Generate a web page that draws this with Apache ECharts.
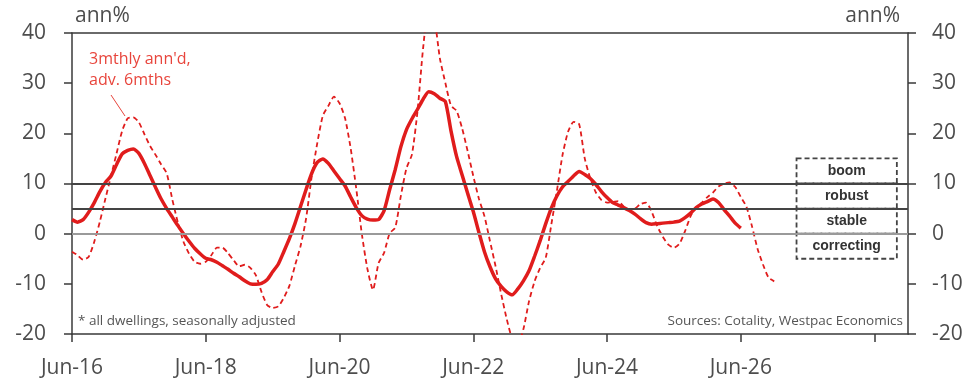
<!DOCTYPE html>
<html>
<head>
<meta charset="utf-8">
<script src="https://cdn.jsdelivr.net/npm/echarts@6/dist/echarts.min.js"></script>
<style>html,body{margin:0;padding:0;background:#fff}#c{width:972px;height:382px}</style>
</head>
<body>
<div id="c"></div>
<script>
// ---- data ----
const startMonth = {year: 2016, month: 5}; // Jun-16
const monthCount = 151;                    // Jun-16 .. Dec-28
const tickLabels = ['Jun-16','Jun-18','Jun-20','Jun-22','Jun-24','Jun-26'];
const tickOnly = ['Jun-28'];

// 6-month annualised (solid), monthly from Jun-16
const solidVals = [
 2.8, 2.3, 2.8, 4.3, 6.2, 8.4, 10.2, 11.5, 13.8, 15.9, 16.6, 16.9,
 16.0, 14.0, 11.6, 9.2, 6.9, 5.0, 3.3, 1.6, 0.0, -1.5, -2.9, -4.0,
 -4.9, -5.2, -5.7, -6.4, -7.1, -7.9, -8.6, -9.4, -10.0, -10.1, -9.9, -9.2,
 -7.6, -6.1, -3.6, -1.0, 2.0, 5.4, 8.8, 12.0, 14.2, 14.9, 14.0, 12.5,
 11.0, 9.5, 7.3, 5.2, 3.6, 2.9, 2.7, 2.8, 4.6, 8.8, 12.8, 17.3,
 20.7, 22.9, 24.8, 26.8, 28.3, 27.9, 27.0, 26.3, 20.5, 15.4, 11.7, 8.0,
 4.4, 0.3, -3.6, -6.6, -9.0, -10.5, -11.6, -12.2, -11.0, -9.4, -7.4, -4.5,
 -1.4, 2.0, 5.1, 7.5, 9.3, 10.4, 11.5, 12.4, 11.8, 11.0, 9.8, 8.4,
 7.2, 6.2, 5.7, 5.2, 4.6, 3.9, 3.0, 2.2, 1.9, 2.0, 2.1, 2.2,
 2.3, 2.5, 3.2, 4.1, 5.2, 5.9, 6.4, 6.9, 6.2, 4.8, 3.5, 2.1,
 1.1
];

// 3mthly annualised, advanced 6 months (dashed), monthly from Jun-16
const dashedVals = [
 -3.6, -4.3, -5.2, -4.6, -1.6, 2.4, 7.0, 11.5, 16.0, 20.5, 23.0, 23.2,
 22.2, 19.8, 17.5, 15.7, 13.8, 12.0, 6.8, 2.2, -1.6, -4.0, -5.6, -6.0,
 -5.6, -4.3, -2.8, -2.8, -3.9, -5.3, -6.5, -6.2, -6.8, -8.3, -11.6, -14.2,
 -14.8, -14.5, -12.8, -10.4, -6.4, -2.5, 3.0, 11.3, 18.0, 23.5, 25.5, 27.3,
 26.0, 23.0, 17.0, 9.0, 0.0, -7.0, -11.2, -5.9, -3.8, 0.1, 1.2, 7.5,
 13.0, 15.8, 24.5, 37.0, 45.0, 43.0, 35.0, 30.0, 25.5, 24.5, 21.0, 16.4,
 11.5, 7.0, 3.5, -1.5, -6.5, -12.0, -17.0, -21.0, -22.0, -19.0, -13.5, -9.5,
 -6.8, -4.8, 1.8, 8.5, 15.6, 20.3, 22.3, 21.8, 15.0, 11.0, 8.2, 6.7,
 6.2, 6.3, 6.5, 5.4, 4.7, 5.0, 5.9, 6.2, 4.4, 1.5, -0.6, -2.2,
 -2.8, -2.0, 0.5, 3.5, 5.3, 6.2, 7.3, 8.2, 9.4, 10.0, 10.2, 9.3,
 7.3, 5.4, 1.5, -3.0, -6.2, -8.8, -9.5
];

const refLevels = [10, 5, 0];
const zones = [
  {name: 'boom', from: 10, to: 15},
  {name: 'robust', from: 5, to: 10},
  {name: 'stable', from: 0, to: 5},
  {name: 'correcting', from: -5, to: 0}
];
const zoneStart = 'Apr-27', zoneEnd = 'Oct-28';

// ---- categories ----
const mNames = ['Jan','Feb','Mar','Apr','May','Jun','Jul','Aug','Sep','Oct','Nov','Dec'];
const categories = [];
for (let i = 0; i < monthCount; i++) {
  const t = startMonth.month + i;
  const y = startMonth.year + Math.floor(t / 12);
  categories.push(mNames[t % 12] + '-' + String(y % 100).padStart(2, '0'));
}

const FONT = 'Open Sans';
const red = '#e01c1c';
const axisCol = '#3a3a3a';
const textCol = '#4d4d4d';

const chart = echarts.init(document.getElementById('c'), null, {renderer: 'canvas'});

const yAxisBase = {
  type: 'value', min: -20, max: 40, interval: 10,
  axisLine: {show: true, onZero: false, lineStyle: {color: axisCol, width: 1.5}},
  axisTick: {show: true, length: 8, lineStyle: {color: axisCol, width: 1.5}},
  splitLine: {show: false},
  axisLabel: {color: textCol, fontSize: 21, fontFamily: FONT, margin: 26}
};

chart.setOption({
  animation: false,
  backgroundColor: '#fff',
  grid: {left: 72, right: 64, top: 33, bottom: 48},
  xAxis: [{
    type: 'category', data: categories, boundaryGap: false,
    axisLine: {onZero: false, lineStyle: {color: axisCol, width: 1.5}},
    axisTick: {length: 8, lineStyle: {color: axisCol, width: 1.5},
      interval: (i, v) => tickLabels.includes(v) || tickOnly.includes(v)},
    axisLabel: {color: textCol, fontSize: 21, fontFamily: FONT, margin: 24,
      interval: (i, v) => tickLabels.includes(v)},
    splitLine: {show: false}
  }, {
    type: 'category', data: categories, boundaryGap: false, position: 'top',
    axisLine: {show: true, onZero: false, lineStyle: {color: axisCol, width: 1.5}},
    axisTick: {show: false}, axisLabel: {show: false}, splitLine: {show: false}
  }],
  yAxis: [
    Object.assign({}, yAxisBase, {position: 'left'}),
    Object.assign({}, yAxisBase, {position: 'right', axisLabel: Object.assign({}, yAxisBase.axisLabel, {margin: 24})})
  ],
  series: [
    {
      type: 'line', data: [], z: 1, silent: true,
      markLine: {
        silent: true, symbol: 'none', animation: false,
        label: {show: false},
        data: refLevels.map(v => ({yAxis: v, lineStyle: {color: v === 0 ? '#9a9a9a' : '#444', width: 1.8, type: 'solid'}}))
      },
      markArea: {
        silent: true,
        itemStyle: {color: 'rgba(255,255,255,0)', borderColor: '#444', borderWidth: 1.8, borderType: [5, 3]},
        label: {show: true, position: 'inside', color: '#333', fontWeight: 'bold', fontSize: 14, fontFamily: 'Liberation Sans'},
        data: zones.map(z => [{name: z.name, xAxis: zoneStart, yAxis: z.to}, {xAxis: zoneEnd, yAxis: z.from}])
      }
    },
    {
      name: '3mthly', type: 'line', data: dashedVals, z: 3, symbol: 'none', smooth: 0.2,
      lineStyle: {color: red, width: 1.8, type: [5, 3.5]}
    },
    {
      name: '6mthly', type: 'line', data: solidVals, z: 4, symbol: 'none', smooth: 0.2,
      lineStyle: {color: red, width: 3.5}
    }
  ],
  graphic: [
    {type: 'text', left: 75, top: 6, style: {text: 'ann%', fill: textCol, fontSize: 21, fontFamily: FONT}},
    {type: 'text', right: 72, top: 6, style: {text: 'ann%', fill: textCol, fontSize: 21, fontFamily: FONT}},
    {type: 'text', left: 89, top: 49, style: {text: "3mthly ann'd,\nadv. 6mths", fill: '#e8453c', fontSize: 16, lineHeight: 21, fontFamily: FONT}},
    {type: 'line', shape: {x1: 111, y1: 95, x2: 125, y2: 116}, style: {stroke: '#e8453c', lineWidth: 1}},
    {type: 'text', left: 78, top: 314, style: {text: '* all dwellings, seasonally adjusted', fill: '#555', fontSize: 13.5, fontFamily: FONT}},
    {type: 'text', right: 69, top: 314, style: {text: 'Sources: Cotality, Westpac Economics', fill: '#555', fontSize: 13.5, fontFamily: FONT}}
  ]
});
</script>
</body>
</html>
